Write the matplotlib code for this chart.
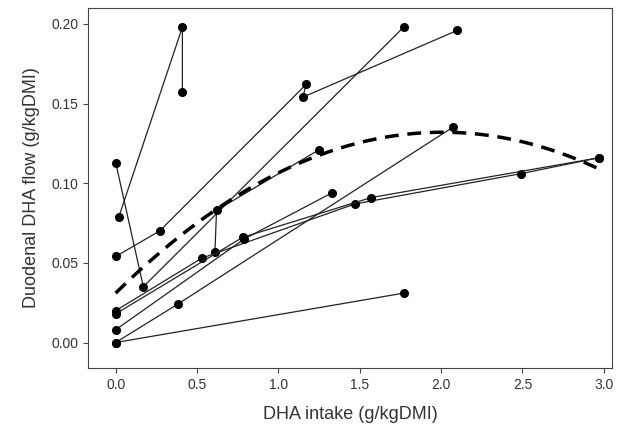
import numpy as np
import matplotlib.pyplot as plt

plt.rcParams['font.family'] = ['Liberation Sans', 'DejaVu Sans']

# individual study treatment lines (x = DHA intake, y = duodenal DHA flow)
series = [
    ([0.02, 0.41, 0.41], [0.079, 0.198, 0.157]),
    ([0.00, 0.17, 1.77], [0.113, 0.035, 0.198]),
    ([0.00, 0.27, 1.17, 1.15, 2.10], [0.054, 0.070, 0.162, 0.154, 0.196]),
    ([0.61, 0.62, 1.25], [0.057, 0.083, 0.121]),
    ([0.00, 0.53, 1.47, 2.49, 2.97], [0.020, 0.053, 0.087, 0.106, 0.116]),
    ([0.00, 0.78, 1.57, 2.97], [0.018, 0.066, 0.091, 0.116]),
    ([0.00, 0.79, 1.33], [0.008, 0.065, 0.094]),
    ([0.00, 0.38, 2.07], [0.000, 0.024, 0.135]),
    ([0.00, 1.77], [0.000, 0.031]),
]

# quadratic fit coefficients (intercept, linear, quadratic)
fit_coef = [0.031, 0.1005, -0.0250]
fit_range = (0.0, 2.97)

fig = plt.figure(figsize=(6.22, 4.25), dpi=100)
ax = fig.add_axes([88 / 622, 1 - 368 / 425, (612 - 88) / 622, (368 - 8) / 425])

for xs, ys in series:
    ax.plot(xs, ys, color='#222222', lw=0.9, marker='o', ms=5.5,
            markerfacecolor='black', markeredgecolor='black')

xf = np.linspace(*fit_range, 100)
yf = fit_coef[0] + fit_coef[1] * xf + fit_coef[2] * xf ** 2
ax.plot(xf, yf, color='black', lw=2.5, ls=(0, (4, 2.5)))

ax.set_xlim(-0.17, 3.05)
ax.set_ylim(-0.016, 0.210)
ax.set_xticks(np.arange(0, 3.01, 0.5))
ax.set_yticks(np.arange(0, 0.201, 0.05))
ax.set_xticklabels([f'{v:.1f}' for v in np.arange(0, 3.01, 0.5)])
ax.set_yticklabels([f'{v:.2f}' for v in np.arange(0, 0.201, 0.05)])
ax.tick_params(labelsize=10, color='#444444', labelcolor='#333333')
for sp in ax.spines.values():
    sp.set_color('#444444')
ax.set_xlabel('DHA intake (g/kgDMI)', fontsize=13, color='#333333', labelpad=10)
ax.set_ylabel('Duodenal DHA flow (g/kgDMI)', fontsize=13, color='#333333', labelpad=8)

fig.savefig('out.png', dpi=100)
